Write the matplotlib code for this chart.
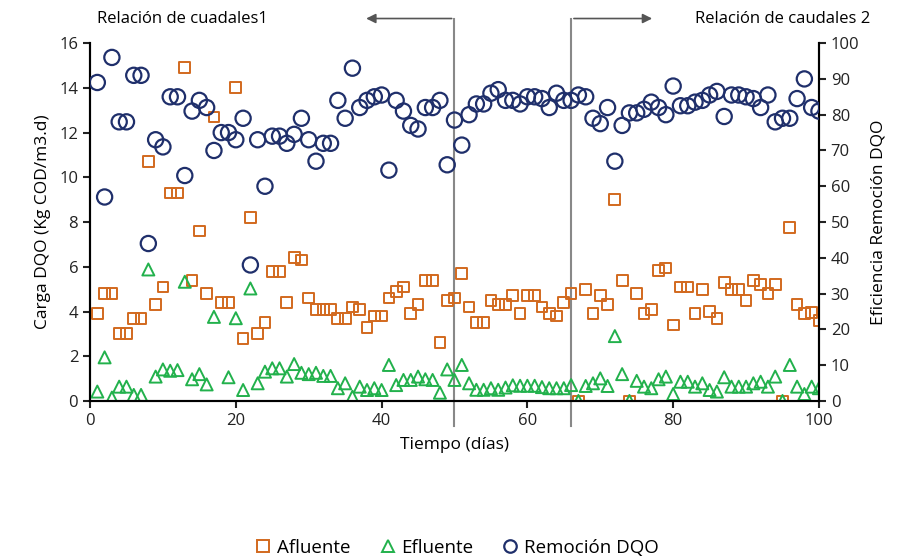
import numpy as np
import matplotlib.pyplot as plt
from matplotlib.lines import Line2D

plt.rcParams['font.family'] = ['Open Sans', 'DejaVu Sans']

# dias de operacion
dias = np.arange(1, 101)

afluente = [3.9, 4.8, 4.8, 3.0, 3.0, 3.7, 3.7, 10.7, 4.3, 5.1,
            9.3, 9.3, 14.9, 5.4, 7.6, 4.8, 12.7, 4.4, 4.4, 14.0,
            2.8, 8.2, 3.0, 3.5, 5.8, 5.8, 4.4, 6.4, 6.3, 4.6,
            4.1, 4.1, 4.1, 3.7, 3.7, 4.2, 4.1, 3.3, 3.8, 3.8,
            4.6, 4.9, 5.1, 3.9, 4.3, 5.4, 5.4, 2.6, 4.5, 4.6,
            5.7, 4.2, 3.5, 3.5, 4.5, 4.3, 4.3, 4.7, 3.9, 4.7,
            4.7, 4.2, 3.9, 3.8, 4.4, 4.8, 0.0, 5.0, 3.9, 4.7,
            4.3, 9.0, 5.4, 0.0, 4.8, 3.9, 4.1, 5.85, 5.95, 3.4,
            5.1, 5.1, 3.9, 5.0, 4.0, 3.7, 5.3, 5.0, 5.0, 4.5,
            5.4, 5.2, 4.8, 5.2, 0.0, 7.75, 4.3, 3.9, 3.95, 3.6]

efluente = [0.42, 1.95, 0.15, 0.64, 0.64, 0.27, 0.27, 5.88, 1.09, 1.41,
            1.35, 1.38, 5.33, 0.97, 1.2, 0.74, 3.76, np.nan, 1.06, 3.7,
            0.49, 5.03, 0.79, 1.31, 1.46, 1.46, 1.09, 1.65, 1.26, 1.2,
            1.26, 1.12, 1.12, 0.57, 0.79, 0.19, 0.64, 0.49, 0.57, 0.49,
            1.61, 0.71, 0.94, 0.94, 1.09, 0.97, 0.94, 0.37, 1.41, 0.94,
            1.61, 0.79, 0.5, 0.5, 0.57, 0.5, 0.6, 0.7, 0.68, 0.68,
            0.68, 0.62, 0.57, 0.57, 0.57, 0.71, 0.0, 0.67, 0.79, 1.01,
            0.67, 2.9, 1.2, 0.0, 0.9, 0.64, 0.57, 0.97, 1.09, 0.31,
            0.86, 0.86, 0.64, 0.79, 0.49, 0.42, 1.06, 0.64, 0.64, 0.64,
            0.79, 0.86, 0.64, 1.09, 0.0, 1.61, 0.64, 0.31, 0.64, 0.57]

remocion = [89, 57, 96, 78, 78, 91, 91, 44, 73, 71,
            85, 85, 63, 81, 84, 82, 70, 75, 75, 73,
            79, 38, 73, 60, 74, 74, 72, 74.5, 79, 73,
            67, 72, 72, 84, 79, 93, 82, 84, 85, 85.5,
            64.5, 84, 81, 77, 76, 82, 82, 84, 66, 78.5,
            71.5, 80, 83, 83, 86, 87, 84, 84, 83, 85,
            85, 84.5, 82, 86, 84, 84, 85.5, 85, 79, 77.5,
            82, 67, 77, 80.5, 80.5, 81.5, 83.5, 82, 80, 88,
            82.5, 82.5, 83.5, 84, 85.5, 86.5, 79.5, 85.5, 85.5, 85,
            84.5, 82, 85.5, 78, 79, 79, 84.5, 90, 82, 81]

cambios = [50, 66]

naranja = '#D2691E'
verde = '#22B14C'
azul = '#1F2F6B'

fig = plt.figure(figsize=(9.14, 5.6), dpi=100)
ax = fig.add_axes([0.0985, 0.284, 0.7975, 0.639])
ax2 = ax.twinx()

ax.scatter(dias, afluente, marker='s', s=60, facecolors='none', edgecolors=naranja, linewidths=1.4, zorder=3)
ax.scatter(dias, efluente, marker='^', s=75, facecolors='none', edgecolors=verde, linewidths=1.4, zorder=3)
ax2.scatter(dias, remocion, marker='o', s=120, facecolors='none', edgecolors=azul, linewidths=1.6, zorder=3)

ax.set_xlim(0, 100)
ax.set_ylim(0, 16)
ax2.set_ylim(0, 100)
ax.set_xticks(range(0, 101, 20))
ax.set_yticks(range(0, 17, 2))
ax2.set_yticks(range(0, 101, 10))

for a in (ax, ax2):
    a.spines['top'].set_visible(False)
    for s in a.spines.values():
        s.set_linewidth(1.5)
    a.tick_params(direction='out', width=1.5, length=5, labelsize=12, colors='#222222')

ax.set_xlabel('Tiempo (días)', fontsize=12.5, labelpad=6)
ax.set_ylabel('Carga DQO (Kg COD/m3.d)', fontsize=12.5, labelpad=6)
ax2.set_ylabel('Eficiencia Remoción DQO', fontsize=12.5, labelpad=8)

# lineas de cambio de relacion de caudales
for c in cambios:
    ax.plot([c, c], [-1.1, 17.1], color='#888888', lw=1.5, clip_on=False, zorder=1)
ax.annotate('', xy=(37.5, 17.1), xytext=(50, 17.1), xycoords='data',
            arrowprops=dict(arrowstyle='-|>', color='#555555', lw=1.2, mutation_scale=14),
            annotation_clip=False)
ax.annotate('', xy=(77.5, 17.1), xytext=(66, 17.1), xycoords='data',
            arrowprops=dict(arrowstyle='-|>', color='#555555', lw=1.2, mutation_scale=14),
            annotation_clip=False)
ax.text(1, 17.1, 'Relación de cuadales1', fontsize=12, va='center', ha='left', clip_on=False)
ax.text(107, 17.1, 'Relación de caudales 2', fontsize=12, va='center', ha='right', clip_on=False)

handles = [
    Line2D([], [], marker='s', ls='none', mfc='none', mec=naranja, mew=1.4, ms=8),
    Line2D([], [], marker='^', ls='none', mfc='none', mec=verde, mew=1.4, ms=8),
    Line2D([], [], marker='o', ls='none', mfc='none', mec=azul, mew=1.6, ms=9),
]
fig.legend(handles, ['Afluente', 'Efluente', 'Remoción DQO'], loc='center',
           bbox_to_anchor=(0.5, 0.022), ncol=3, frameon=False, fontsize=13.5,
           handlelength=0.9, handletextpad=0.3, columnspacing=1.5)

fig.savefig('out.png', dpi=100)
